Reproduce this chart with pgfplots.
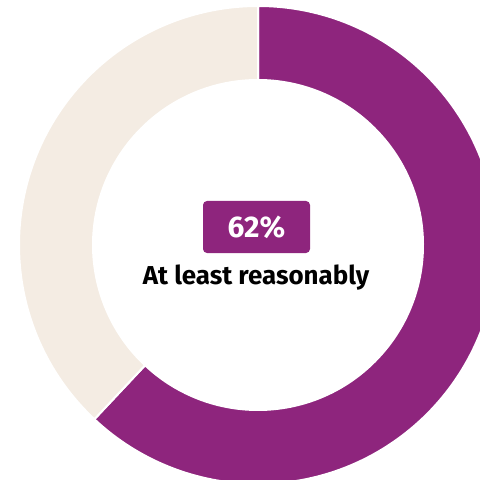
\documentclass[border=0pt]{standalone}
\usepackage{pgfplots}
\pgfplotsset{compat=1.18}
\usepackage{pgfplotstable}
\usepackage{fontspec}
\setmainfont{Fira Sans}
\definecolor{cpurple}{HTML}{8E257D}
\definecolor{cbeige}{HTML}{F4ECE3}
\pgfplotstableread{
label value
yes 62
no 38
}\donutdata
\begin{document}
\begin{tikzpicture}
\pgfplotstablegetelem{0}{value}\of\donutdata \let\va\pgfplotsretval
\pgfplotstablegetelem{1}{value}\of\donutdata \let\vb\pgfplotsretval
\pgfmathsetmacro{\aA}{90}
\pgfmathsetmacro{\aB}{90-\va*3.6}
\pgfmathsetmacro{\aC}{\aB-\vb*3.6}
\begin{axis}[
  width=480bp, height=479bp, scale only axis,
  xmin=-258, xmax=222, ymin=-234, ymax=245,
  hide axis, clip=true,
]
\def\Ro{239}\def\Ri{165}
\fill[cpurple, draw=white, line width=2bp]
  (axis cs:{\Ro*cos(\aA)},{\Ro*sin(\aA)}) arc[start angle=\aA, end angle=\aB, radius=\Ro bp]
  -- (axis cs:{\Ri*cos(\aB)},{\Ri*sin(\aB)}) arc[start angle=\aB, end angle=\aA, radius=\Ri bp] -- cycle;
\fill[cbeige, draw=white, line width=2bp]
  (axis cs:{\Ro*cos(\aB)},{\Ro*sin(\aB)}) arc[start angle=\aB, end angle=\aC, radius=\Ro bp]
  -- (axis cs:{\Ri*cos(\aC)},{\Ri*sin(\aC)}) arc[start angle=\aC, end angle=\aB, radius=\Ri bp] -- cycle;
\node[fill=cpurple, rounded corners=4bp, text=white, font=\fontsize{30}{32}\selectfont\bfseries,
  minimum width=107bp, minimum height=52bp, inner sep=0pt] at (axis cs:-1.5,18) {\va\%};
\node[text=black, font=\fontsize{26}{28}\selectfont\bfseries, inner sep=0pt] at (axis cs:-2,-33) {At least reasonably};
\end{axis}
\pgfresetboundingbox
\useasboundingbox (current axis.south west) rectangle (current axis.north east);
\end{tikzpicture}
\end{document}
